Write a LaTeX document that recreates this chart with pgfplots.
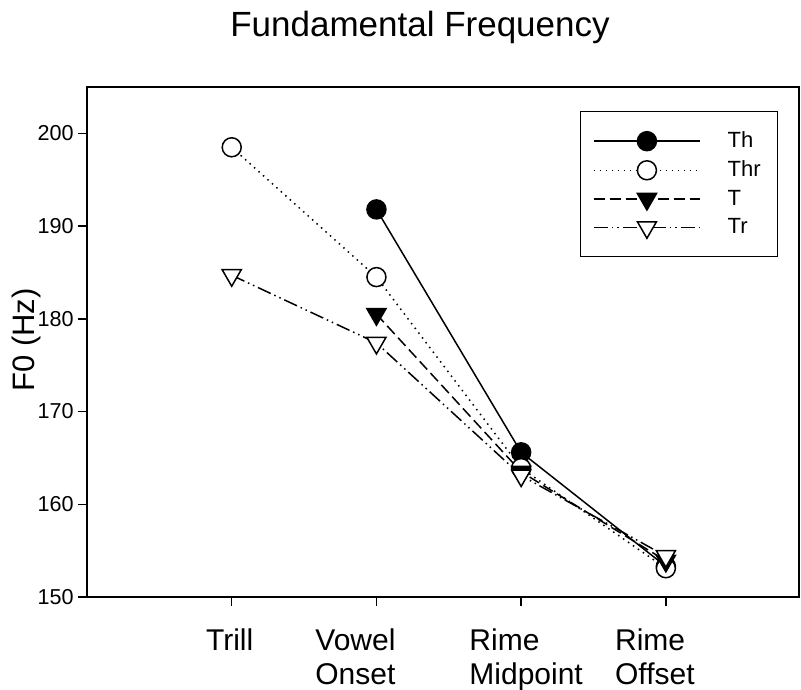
\documentclass[border=0pt]{standalone}
\usepackage{pgfplots}
\pgfplotsset{compat=1.18}
\usepackage{fontspec}
\setmainfont{Liberation Sans}
\newcommand\tlab[3]{\hspace*{#1}\begin{tabular}[t]{@{}l@{}}#3\end{tabular}\hspace*{#2}}
\begin{document}
\begin{tikzpicture}
\path[use as bounding box] (-43.5bp,-46.5bp) rectangle (357bp,298.5bp);
\begin{axis}[
  at={(0,0)}, anchor=south west, scale only axis,
  width=356bp, height=255bp,
  xmin=0, xmax=4.92, ymin=150, ymax=205,
  xtick={1,2,3,4},
  xticklabels={\tlab{0bp}{2bp}{Trill}, \tlab{0bp}{21bp}{Vowel\\Onset}, \tlab{5bp}{0bp}{Rime\\Midpoint}, \tlab{0bp}{11bp}{Rime\\Offset}},
  ytick={150,160,170,180,190,200},
  yticklabels={150,160,170,180,190,200},
  tick pos=left, tick align=outside,
  major tick length=4.5bp,
  axis line style={line width=1bp},
  every tick/.style={black, line width=0.75bp},
  /pgf/number format/assume math mode=true,
  yticklabel style={font=\fontsize{10.8bp}{12bp}\selectfont, inner sep=0pt, anchor=east, xshift=-2bp},
  xticklabel style={font=\fontsize{15bp}{17bp}\selectfont, inner sep=0pt, anchor=base, yshift=-22.3bp},
  ylabel={F0 (Hz)},
  ylabel style={font=\fontsize{15.5bp}{17bp}\selectfont, at={(axis description cs:-0.0744,0.504)}, anchor=base},
  title={Fundamental Frequency},
  title style={font=\fontsize{17.5bp}{19bp}\selectfont, at={(axis description cs:0.4677,1)}, anchor=base, yshift=19.5bp},
  legend style={at={(axis description cs:0.9705,0.953)}, anchor=north east, draw=black, line width=0.75bp,
    font=\fontsize{11bp}{13bp}\selectfont, inner xsep=6.3bp, inner ysep=8bp, row sep=1.1bp, column sep=11.5bp},
  legend cell align=left,
  legend image code/.code={\draw[mark repeat=2, mark phase=2] plot coordinates {(0bp,0bp) (26.5bp,0bp) (53bp,0bp)};},
]
\addplot[black, line width=0.75bp, mark=*, mark size=4.75bp, mark options={solid, fill=black}]
  coordinates {(2,191.8) (3,165.6) (4,153.3)};
\addlegendentry{Th}
\addplot[black, line width=0.75bp, dash pattern=on 0.75bp off 2.25bp, mark=*, mark size=4.75bp, mark options={solid, fill=white}]
  coordinates {(1,198.5) (2,184.5) (3,163.9) (4,153.1)};
\addlegendentry{Thr}
\addplot[black, line width=0.75bp, dash pattern=on 5.5bp off 2.5bp, mark=triangle*, mark size=5.5bp, mark options={solid, fill=black, rotate=180}]
  coordinates {(2,180.5) (3,163.5) (4,153.9)};
\addlegendentry{T}
\addplot[black, line width=0.75bp, dash pattern=on 7bp off 2bp on 0.75bp off 2bp on 0.75bp off 2bp, mark=triangle*, mark size=5.5bp, mark options={solid, fill=white, rotate=180}]
  coordinates {(1,184.7) (2,177.4) (3,163.1) (4,154.4)};
\addlegendentry{Tr}
\end{axis}
\end{tikzpicture}
\end{document}
